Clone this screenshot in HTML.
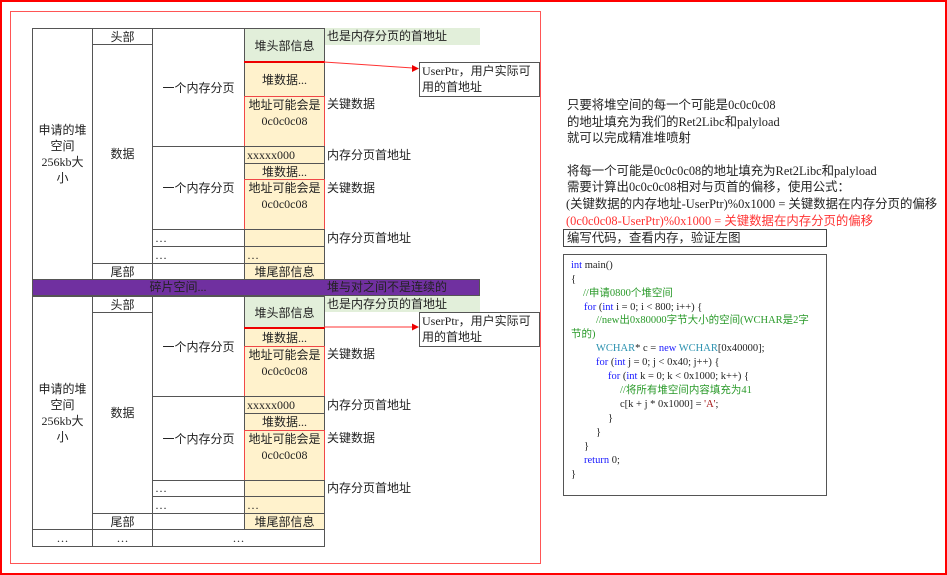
<!DOCTYPE html>
<html><head><meta charset="utf-8">
<style>
*{margin:0;padding:0;box-sizing:border-box}
body{width:947px;height:575px;position:relative;background:#fff;font-family:"Liberation Serif","Noto Sans CJK SC",serif;font-size:12px;color:#222;overflow:hidden}
.a{position:absolute}
.c{position:absolute;border:1px solid #555;display:flex;align-items:center;justify-content:center;text-align:center;line-height:16px;background:#fff}
.y{background:#fff2cc}
.g{background:#e2efda}
.r{border:1px solid #f04848}
.t{position:absolute;white-space:nowrap;line-height:16px}
.rt{font-size:12.4px}
.code .t{font-size:10.5px;line-height:14px}
.b{color:#1a1aff}.gr{color:#2a9a2a}.cy{color:#2b91af}.rd{color:#a31515}
</style></head><body>
<div class="a" style="left:0;top:0;width:947px;height:575px;border:2px solid #f00"></div>
<div class="a" style="left:10px;top:11px;width:531px;height:553px;border:1px solid #f55"></div>

<!-- block 1 -->
<div class="c" style="left:32px;top:28px;width:61px;height:252px;padding:0 4px">申请的堆空间256kb大小</div>
<div class="c" style="left:92px;top:28px;width:61px;height:17px">头部</div>
<div class="c" style="left:92px;top:44px;width:61px;height:220px">数据</div>
<div class="c" style="left:92px;top:263px;width:61px;height:17px">尾部</div>
<div class="c" style="left:152px;top:28px;width:93px;height:119px">一个内存分页</div>
<div class="c" style="left:152px;top:146px;width:93px;height:84px">一个内存分页</div>
<div class="c" style="left:152px;top:229px;width:93px;height:18px;justify-content:flex-start;padding-left:2px;align-items:flex-end">…</div>
<div class="c" style="left:152px;top:246px;width:93px;height:18px;justify-content:flex-start;padding-left:2px;align-items:flex-end">…</div>
<div class="c" style="left:152px;top:263px;width:93px;height:17px"></div>
<div class="c g" style="left:244px;top:28px;width:81px;height:35px">堆头部信息</div>
<div class="c y" style="left:244px;top:62px;width:81px;height:35px">堆数据...</div>
<div class="c y r" style="left:244px;top:96px;width:81px;height:51px;align-items:flex-start">地址可能会是0c0c0c08</div>
<div class="c y" style="left:244px;top:146px;width:81px;height:18px;justify-content:flex-start;padding-left:2px">xxxxx000</div>
<div class="c y" style="left:244px;top:163px;width:81px;height:17px">堆数据...</div>
<div class="c y r" style="left:244px;top:179px;width:81px;height:51px;align-items:flex-start">地址可能会是0c0c0c08</div>
<div class="c y" style="left:244px;top:229px;width:81px;height:18px"></div>
<div class="c y" style="left:244px;top:246px;width:81px;height:18px;justify-content:flex-start;padding-left:2px;align-items:flex-end">…</div>
<div class="c y" style="left:244px;top:263px;width:81px;height:17px">堆尾部信息</div>
<div class="a" style="left:244px;top:61px;width:81px;height:2px;background:#e00"></div>
<div class="a g" style="left:325px;top:28px;width:155px;height:17px"></div>
<div class="t" style="left:327px;top:28px">也是内存分页的首地址</div>
<div class="t" style="left:327px;top:96px">关键数据</div>
<div class="t" style="left:327px;top:147px">内存分页首地址</div>
<div class="t" style="left:327px;top:180px">关键数据</div>
<div class="t" style="left:327px;top:230px">内存分页首地址</div>
<div class="a" style="left:419px;top:62px;width:121px;height:35px;border:1px solid #555;padding:0 2px;line-height:16px">UserPtr，用户实际可用的首地址</div>

<!-- purple -->
<div class="a" style="left:32px;top:279px;width:448px;height:17px;background:#7030a0;border:1px solid #555"></div>
<div class="t" style="left:32px;top:279px;width:292px;text-align:center">碎片空间...</div>
<div class="t" style="left:327px;top:279px">堆与对之间不是连续的</div>

<!-- block 2 -->
<div class="c" style="left:32px;top:296px;width:61px;height:234px;padding:0 4px">申请的堆空间256kb大小</div>
<div class="c" style="left:92px;top:296px;width:61px;height:17px">头部</div>
<div class="c" style="left:92px;top:312px;width:61px;height:202px">数据</div>
<div class="c" style="left:92px;top:513px;width:61px;height:17px">尾部</div>
<div class="c" style="left:152px;top:296px;width:93px;height:101px">一个内存分页</div>
<div class="c" style="left:152px;top:396px;width:93px;height:85px">一个内存分页</div>
<div class="c" style="left:152px;top:480px;width:93px;height:17px;justify-content:flex-start;padding-left:2px;align-items:flex-end">…</div>
<div class="c" style="left:152px;top:496px;width:93px;height:18px;justify-content:flex-start;padding-left:2px;align-items:flex-end">…</div>
<div class="c" style="left:152px;top:513px;width:93px;height:17px"></div>
<div class="c g" style="left:244px;top:296px;width:81px;height:33px">堆头部信息</div>
<div class="c y" style="left:244px;top:328px;width:81px;height:19px">堆数据...</div>
<div class="c y r" style="left:244px;top:346px;width:81px;height:51px;align-items:flex-start">地址可能会是0c0c0c08</div>
<div class="c y" style="left:244px;top:396px;width:81px;height:18px;justify-content:flex-start;padding-left:2px">xxxxx000</div>
<div class="c y" style="left:244px;top:413px;width:81px;height:18px">堆数据...</div>
<div class="c y r" style="left:244px;top:430px;width:81px;height:51px;align-items:flex-start">地址可能会是0c0c0c08</div>
<div class="c y" style="left:244px;top:480px;width:81px;height:17px"></div>
<div class="c y" style="left:244px;top:496px;width:81px;height:18px;justify-content:flex-start;padding-left:2px;align-items:flex-end">…</div>
<div class="c y" style="left:244px;top:513px;width:81px;height:17px">堆尾部信息</div>
<div class="a" style="left:244px;top:327px;width:81px;height:2px;background:#e00"></div>
<div class="c" style="left:32px;top:529px;width:61px;height:18px">…</div>
<div class="c" style="left:92px;top:529px;width:61px;height:18px">…</div>
<div class="c" style="left:152px;top:529px;width:173px;height:18px">…</div>
<div class="a g" style="left:325px;top:296px;width:155px;height:16px"></div>
<div class="t" style="left:327px;top:296px">也是内存分页的首地址</div>
<div class="t" style="left:327px;top:346px">关键数据</div>
<div class="t" style="left:327px;top:397px">内存分页首地址</div>
<div class="t" style="left:327px;top:430px">关键数据</div>
<div class="t" style="left:327px;top:480px">内存分页首地址</div>
<div class="a" style="left:419px;top:312px;width:121px;height:35px;border:1px solid #555;padding:0 2px;line-height:16px">UserPtr，用户实际可用的首地址</div>

<svg class="a" style="left:0;top:0" width="947" height="575">
<line x1="324" y1="62" x2="413" y2="68" stroke="#f33" stroke-width="1"/>
<polygon points="419,68.5 412,65 412,72" fill="#e00"/>
<line x1="324" y1="327" x2="413" y2="327" stroke="#f33" stroke-width="1"/>
<polygon points="419,327 412,323.5 412,330.5" fill="#e00"/>
</svg>

<!-- right text -->
<div class="t rt" style="left:567px;top:97px">只要将堆空间的每一个可能是0c0c0c08</div>
<div class="t rt" style="left:567px;top:114px">的地址填充为我们的Ret2Libc和palyload</div>
<div class="t rt" style="left:567px;top:130px">就可以完成精准堆喷射</div>
<div class="t rt" style="left:567px;top:163px">将每一个可能是0c0c0c08的地址填充为Ret2Libc和palyload</div>
<div class="t rt" style="left:567px;top:179px">需要计算出0c0c0c08相对与页首的偏移，使用公式：</div>
<div class="t rt" style="left:566px;top:196px">(关键数据的内存地址-UserPtr)%0x1000 = 关键数据在内存分页的偏移</div>
<div class="t rt" style="left:566px;top:213px;color:#f33">(0c0c0c08-UserPtr)%0x1000 = 关键数据在内存分页的偏移</div>
<div class="a" style="left:563px;top:229px;width:264px;height:18px;border:1px solid #444"></div>
<div class="t rt" style="left:567px;top:230px">编写代码，查看内存，验证左图</div>

<div class="a code" style="left:563px;top:254px;width:264px;height:242px;border:1px solid #555">
<div class="t" style="left:7px;top:4px"><span class="b">int</span> main()</div>
<div class="t" style="left:7px;top:18px">{</div>
<div class="t gr" style="left:19px;top:32px">//申请0800个堆空间</div>
<div class="t" style="left:20px;top:46px"><span class="b">for</span> (<span class="b">int</span> i = 0; i &lt; 800; i++) {</div>
<div class="t gr" style="left:32px;top:59px">//new出0x80000字节大小的空间(WCHAR是2字</div>
<div class="t gr" style="left:7px;top:73px">节的)</div>
<div class="t" style="left:32px;top:87px"><span class="cy">WCHAR</span>* c = <span class="b">new</span> <span class="cy">WCHAR</span>[0x40000];</div>
<div class="t" style="left:32px;top:101px"><span class="b">for</span> (<span class="b">int</span> j = 0; j &lt; 0x40; j++) {</div>
<div class="t" style="left:44px;top:115px"><span class="b">for</span> (<span class="b">int</span> k = 0; k &lt; 0x1000; k++) {</div>
<div class="t gr" style="left:56px;top:129px">//将所有堆空间内容填充为41</div>
<div class="t" style="left:56px;top:143px">c[k + j * 0x1000] = <span class="rd">'A'</span>;</div>
<div class="t" style="left:44px;top:157px">}</div>
<div class="t" style="left:32px;top:171px">}</div>
<div class="t" style="left:20px;top:185px">}</div>
<div class="t" style="left:20px;top:199px"><span class="b">return</span> 0;</div>
<div class="t" style="left:7px;top:213px">}</div>
</div>
</body></html>
